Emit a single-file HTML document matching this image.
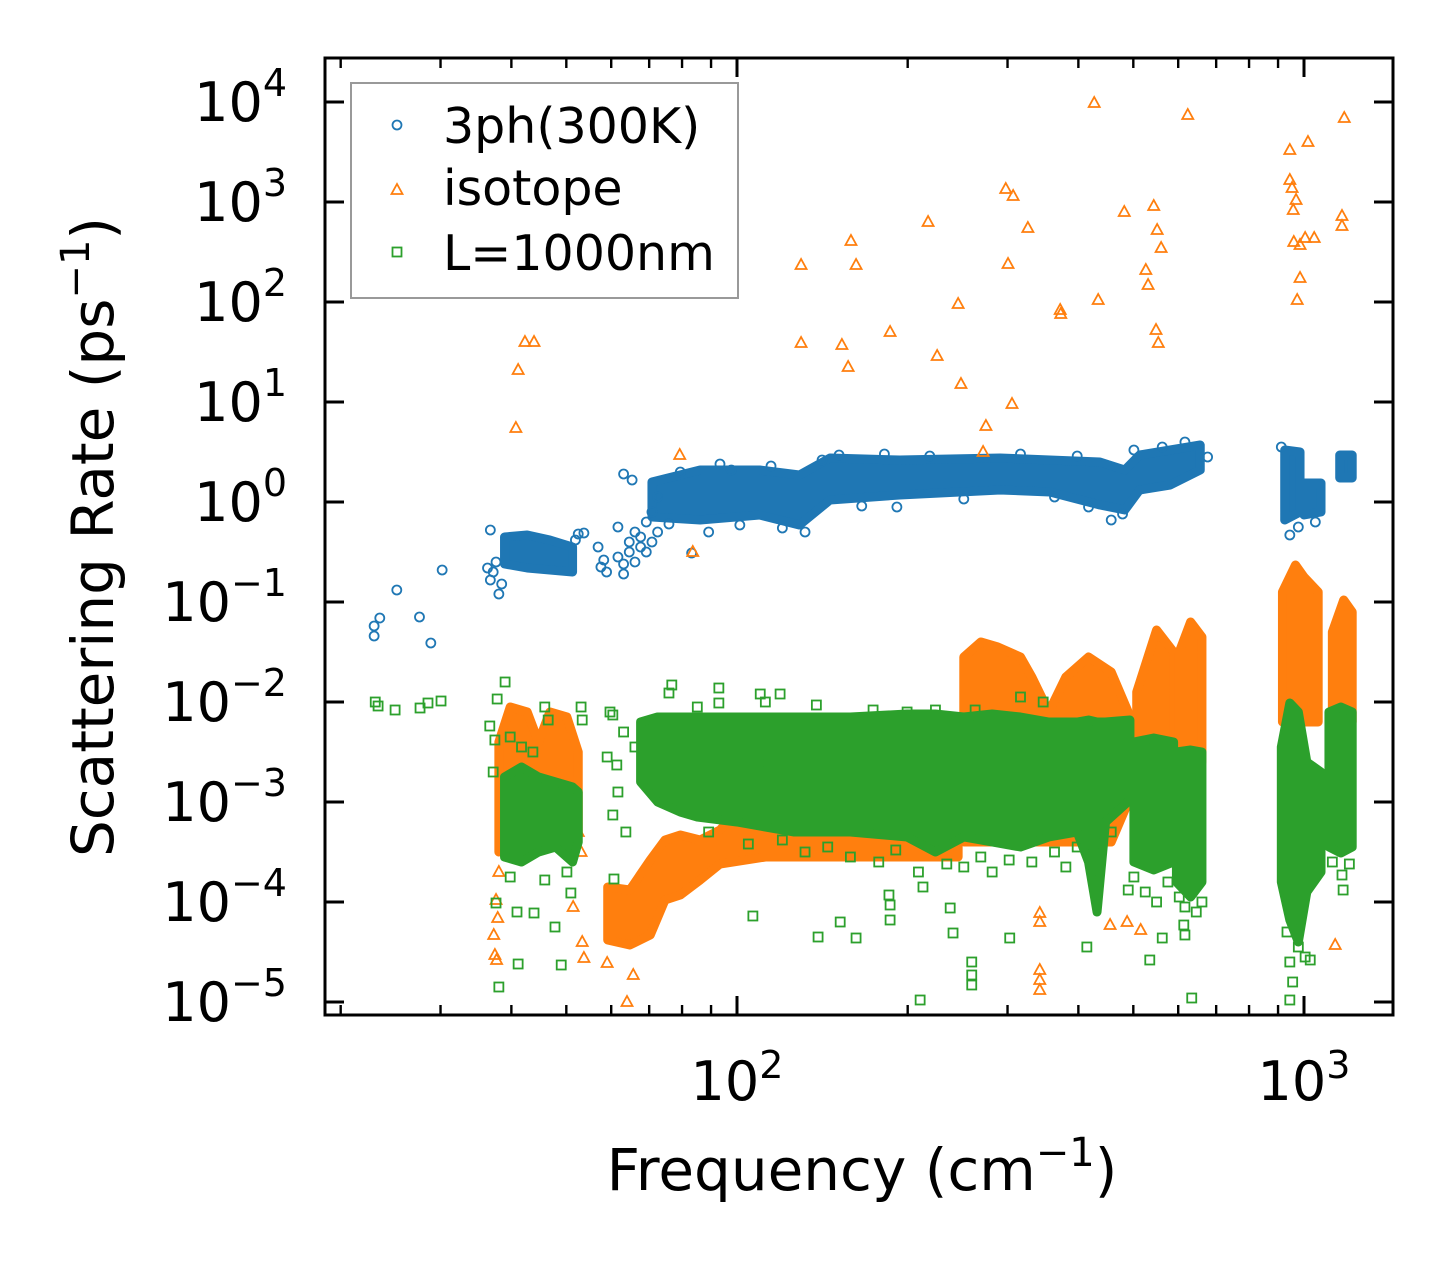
<!DOCTYPE html>
<html><head><meta charset="utf-8"><title>Scattering Rate</title>
<style>
html,body{margin:0;padding:0;background:#fff;}
svg{display:block;font-family:"DejaVu Sans","Liberation Sans",sans-serif;}
</style></head>
<body>
<svg id="chart" width="1455" height="1265" viewBox="0 0 1455 1265" xmlns="http://www.w3.org/2000/svg">
<rect width="1455" height="1265" fill="#fff"/>
<g id="marks"></g>
<g id="axes"></g>
<g id="legend">
  <rect x="351" y="83" width="387" height="215" fill="#fff" fill-opacity="0.8" stroke="#999" stroke-width="2"/>
  <circle cx="397" cy="125" r="4.5" fill="none" stroke="#1f77b4" stroke-width="1.8"/>
  <text x="443" y="143" font-size="49">3ph(300K)</text>
  <path d="M391.5,194 L402.5,194 L397,184 Z" fill="none" stroke="#ff7f0e" stroke-width="1.8"/>
  <text x="443" y="205" font-size="49">isotope</text>
  <rect x="392.5" y="247.5" width="9" height="9" fill="none" stroke="#2ca02c" stroke-width="1.8"/>
  <text x="443" y="270" font-size="49">L=1000nm</text>
</g>
<text x="862" y="1190" font-size="58" text-anchor="middle">Frequency (cm<tspan font-size="40" dy="-24">−1</tspan><tspan dy="24">)</tspan></text>
<text transform="translate(113,537) rotate(-90)" font-size="58" text-anchor="middle">Scattering Rate (ps<tspan font-size="40" dy="-24">−1</tspan><tspan dy="24">)</tspan></text>
</svg>
<script>
// ---- data (log10 frequency in cm^-1, log10 rate in ps^-1) ----
const xTickExps = [2, 3];
const yTickExps = [4, 3, 2, 1, 0, -1, -2, -3, -4, -5];
const xMinorFreqs = [20,30,40,50,60,70,80,90,200,300,400,500,600,700,800,900];

// dense-region envelopes: [logFreq, upperLogRate, lowerLogRate]
const blueEnvelopeA = [[1.59,-0.35,-0.62],[1.63,-0.33,-0.66],[1.67,-0.38,-0.68],[1.71,-0.45,-0.70]];
const blueEnvelopeB = [[1.85,0.20,-0.15],[1.935,0.32,-0.18],[2.04,0.32,-0.13],[2.11,0.27,-0.23],[2.164,0.44,0.02],[2.287,0.42,0.07],[2.464,0.44,0.12],[2.552,0.42,0.10],[2.64,0.40,-0.03],[2.684,0.32,-0.08],[2.71,0.47,0.12],[2.764,0.52,0.17],[2.817,0.57,0.32]];
const blueEnvelopeC = [[2.966,0.52,-0.18],[2.993,0.50,-0.10]];
const blueEnvelopeD = [[3.00,0.19,-0.13],[3.03,0.19,-0.10]];
const blueEnvelopeE = [[3.063,0.47,0.24],[3.085,0.47,0.24]];

const orangeEnvelopeA = [[1.58,-2.4,-3.5],[1.60,-2.05,-3.0],[1.63,-2.1,-2.8],[1.65,-2.4,-2.8],[1.67,-2.1,-2.8],[1.70,-2.15,-3.2],[1.72,-2.5,-3.3]];
const orangeEnvelopeB = [[1.772,-3.85,-4.38],[1.811,-3.88,-4.43],[1.847,-3.58,-4.33],[1.873,-3.38,-3.98],[1.90,-3.33,-3.93],[1.935,-3.38,-3.78],[1.97,-3.28,-3.62],[2.05,-2.8,-3.55],[2.39,-2.3,-3.55]];
const orangeEnvelopeC = [[2.40,-1.55,-3.4],[2.43,-1.40,-3.4],[2.46,-1.45,-3.4],[2.50,-1.55,-3.4],[2.52,-1.75,-3.4],[2.55,-2.1,-3.4],[2.58,-1.75,-3.4],[2.62,-1.55,-3.4],[2.66,-1.7,-3.4],[2.69,-2.1,-3.0]];
const orangeEnvelopeD = [[2.705,-1.9,-2.6],[2.74,-1.28,-2.6],[2.77,-1.5,-2.6]];
const orangeEnvelopeE = [[2.78,-1.5,-2.6],[2.80,-1.2,-2.6],[2.82,-1.35,-2.6]];
const orangeEnvelopeF = [[2.962,-0.9,-2.2],[2.985,-0.63,-2.2],[3.00,-0.75,-2.2],[3.025,-0.9,-2.2]];
const orangeEnvelopeG = [[3.05,-1.3,-2.2],[3.07,-0.98,-2.2],[3.085,-1.1,-2.2]];

const greenEnvelopeA = [[1.59,-2.75,-3.55],[1.62,-2.65,-3.6],[1.65,-2.75,-3.5],[1.68,-2.8,-3.45],[1.71,-2.85,-3.6],[1.72,-2.9,-3.4]];
const greenEnvelopeB = [[1.83,-2.2,-2.8],[1.86,-2.15,-3.0],[1.90,-2.15,-3.1],[1.93,-2.15,-3.15],[2.0,-2.15,-3.2],[2.1,-2.15,-3.3],[2.2,-2.15,-3.3],[2.3,-2.12,-3.35],[2.35,-2.12,-3.5],[2.4,-2.15,-3.35],[2.45,-2.12,-3.4],[2.5,-2.15,-3.45],[2.55,-2.2,-3.35],[2.6,-2.2,-3.3],[2.62,-2.18,-3.6],[2.635,-2.2,-4.1],[2.65,-2.2,-3.2],[2.693,-2.18,-2.98]];
const greenEnvelopeC = [[2.70,-2.4,-3.6],[2.735,-2.36,-3.68],[2.77,-2.4,-3.6]];
const greenEnvelopeD = [[2.775,-2.5,-3.8],[2.80,-2.48,-3.95],[2.82,-2.5,-3.8]];
const greenEnvelopeE = [[2.96,-2.45,-3.8],[2.975,-2.01,-4.18],[2.99,-2.1,-4.4],[3.005,-2.6,-3.9],[3.03,-2.7,-3.7]];
const greenEnvelopeF = [[3.044,-2.1,-3.45],[3.065,-2.05,-3.51],[3.085,-2.1,-3.45]];

// individual scattered points: [logFreq, logRate]
const bluePoints = [[1.36,-1.24],[1.36,-1.34],[1.37,-1.16],[1.40,-0.88],[1.44,-1.15],[1.46,-1.41],[1.48,-0.68],
 [1.565,-0.28],[1.56,-0.66],[1.565,-0.78],[1.57,-0.70],[1.575,-0.60],[1.58,-0.92],[1.585,-0.82],
 [1.715,-0.38],[1.72,-0.32],[1.73,-0.31],[1.755,-0.45],[1.76,-0.65],[1.765,-0.58],[1.77,-0.70],
 [1.79,-0.25],[1.79,-0.55],[1.80,-0.62],[1.80,-0.72],[1.81,-0.40],[1.81,-0.50],[1.82,-0.60],[1.82,-0.30],[1.83,-0.45],[1.83,-0.35],[1.84,-0.50],[1.84,-0.20],[1.85,-0.10],[1.85,-0.40],[1.86,-0.30],[1.86,0.05],[1.80,0.28],[1.815,0.22],
 [1.92,-0.51],[1.95,-0.30],[2.005,-0.23],[1.99,0.32],[2.12,-0.30],[2.282,-0.05],[2.62,-0.05],[2.975,-0.33],[2.68,-0.12],
 [1.88,-0.22],[1.90,0.30],[1.97,0.38],[2.06,0.36],[2.08,-0.26],[2.15,0.42],[2.18,0.47],[2.22,-0.04],[2.26,0.48],[2.34,0.46],[2.40,0.03],[2.50,0.48],[2.56,0.05],[2.60,0.46],[2.66,-0.18],[2.70,0.52],[2.75,0.55],[2.79,0.60],[2.83,0.45],[2.96,0.55],[2.99,-0.25],[3.02,-0.20]];
const orangePoints = [[1.610,0.74],[1.614,1.32],[1.626,1.60],[1.642,1.60],[1.899,0.47],[1.922,-0.50],[2.113,2.37],[2.113,1.59],[2.185,1.57],[2.196,1.35],[2.201,2.61],[2.210,2.37],[2.270,1.70],[2.337,2.80],[2.353,1.46],[2.390,1.98],[2.395,1.18],[2.434,0.50],[2.439,0.76],[2.474,3.13],[2.478,2.38],[2.487,3.06],[2.485,0.98],[2.513,2.74],[2.570,1.92],[2.571,1.88],[2.630,3.99],[2.637,2.02],[2.683,2.90],[2.721,2.32],[2.725,2.17],[2.735,2.96],[2.741,2.72],[2.739,1.72],[2.743,1.59],[2.748,2.54],[2.795,3.87],
 [2.975,3.52],[2.975,3.22],[2.979,3.14],[2.981,2.92],[2.982,2.60],[2.986,3.02],[2.988,2.02],[2.993,2.24],[2.993,2.57],[3.002,2.64],[3.007,3.60],[3.018,2.64],[3.067,2.86],[3.067,2.76],[3.071,3.84],[3.055,-4.43],
 [2.534,-4.11],[2.534,-4.20],[2.534,-4.68],[2.534,-4.78],[2.534,-4.88],[2.658,-4.23],[2.688,-4.20],[2.712,-4.28],
 [1.806,-5.0],[1.817,-4.73],[1.771,-4.61],[1.727,-4.40],[1.730,-4.56],[1.711,-4.05],[1.571,-4.33],[1.573,-4.53],[1.576,-4.58],[1.578,-4.16],[1.575,-3.98],[1.58,-3.7],[1.72,-3.3],[1.725,-3.5]];
const greenPoints = [[1.362,-2.00],[1.367,-2.04],[1.397,-2.08],[1.441,-2.06],[1.455,-2.01],[1.478,-1.99],
 [1.591,-1.80],[1.577,-1.97],[1.564,-2.24],[1.573,-2.38],[1.661,-2.05],[1.725,-2.05],[1.727,-2.18],[1.667,-2.18],[1.60,-2.35],[1.62,-2.45],[1.64,-2.5],[1.57,-2.7],
 [1.575,-4.01],[1.612,-4.10],[1.642,-4.11],[1.679,-4.25],[1.614,-4.62],[1.690,-4.63],[1.580,-4.85],[1.661,-3.78],[1.707,-3.91],[1.70,-3.7],[1.60,-3.75],
 [1.783,-3.77],[1.804,-3.30],[1.781,-3.13],[1.771,-2.55],[1.788,-2.63],[1.781,-2.13],[1.776,-2.10],[1.80,-2.3],[1.79,-2.9],[1.82,-2.45],
 [1.885,-1.83],[1.880,-1.91],[1.968,-1.86],[1.968,-2.01],[2.041,-2.61],[2.028,-4.14],[2.143,-4.35],[2.182,-4.20],[2.210,-4.36],[2.270,-4.03],[2.270,-4.18],[2.268,-3.93],[2.041,-1.92],[2.076,-1.92],
 [2.323,-4.98],[2.376,-4.06],[2.381,-4.31],[2.328,-3.85],[2.414,-4.60],[2.414,-4.73],[2.414,-4.83],[2.481,-4.36],[2.617,-4.45],[2.690,-3.88],[2.728,-4.58],[2.750,-4.36],[2.788,-4.23],[2.79,-4.33],[2.802,-4.96],
 [2.975,-4.6],[2.98,-4.8],[2.975,-4.98],[3.002,-4.55],[3.011,-4.58],[3.069,-3.88],[3.067,-3.73],[2.72,-3.9],[2.74,-4.0],[2.79,-4.05],[2.81,-4.1],
 [1.93,-2.05],[2.05,-2.0],[2.14,-2.03],[2.24,-2.08],[2.30,-2.1],[2.35,-2.08],[2.42,-2.08],[2.50,-1.95],[2.54,-2.0],[2.20,-3.55],[2.25,-3.6],[2.40,-3.65],[2.45,-3.7],[2.52,-3.6],[2.58,-3.65],[2.12,-3.5],[2.32,-3.7],
 [1.95,-3.3],[2.02,-3.42],[2.08,-3.38],[2.16,-3.45],[2.28,-3.48],[2.37,-3.62],[2.43,-3.55],[2.48,-3.58],[2.56,-3.5],[2.60,-3.45],[2.66,-3.3],[2.70,-3.75],[2.76,-3.8],[2.78,-3.95],[2.82,-4.0],[2.97,-4.3],[2.99,-4.45],[3.05,-3.6],[3.08,-3.62]];

// ---- scales ----
const X = lf => 737 + 567 * (lf - 2);
const Y = lr => 502 - 100 * lr;
const NS = 'http://www.w3.org/2000/svg';
const marks = document.getElementById('marks');
const axes = document.getElementById('axes');
const COLORS = {blue:'#1f77b4', orange:'#ff7f0e', green:'#2ca02c'};

function mk(tag, attrs, parent) {
  const e = document.createElementNS(NS, tag);
  for (const k in attrs) e.setAttribute(k, attrs[k]);
  parent.appendChild(e);
  return e;
}
function envelope(data, color, name) {
  const top = data.map(d => X(d[0]) + ',' + Y(d[1]));
  const bot = data.slice().reverse().map(d => X(d[0]) + ',' + Y(d[2]));
  const p = mk('polygon', {points: top.concat(bot).join(' '), fill: color, stroke: color, 'stroke-width': 9, 'stroke-linejoin': 'round'}, marks);
  
  
}
function points(data, kind, color, name) {
  const g = mk('g', {fill: 'none', stroke: color, 'stroke-width': 1.8}, marks);
  
  
  data.forEach(d => {
    const cx = X(d[0]), cy = Y(d[1]);
    let e;
    if (kind === 'circle') e = mk('circle', {cx: cx, cy: cy, r: 4.5}, g);
    else if (kind === 'tri') e = mk('path', {d: `M${cx-5.5},${cy+4} L${cx+5.5},${cy+4} L${cx},${cy-6} Z`}, g);
    else e = mk('rect', {x: cx-4.5, y: cy-4.5, width: 9, height: 9}, g);
    
    
  });
}
[blueEnvelopeA,blueEnvelopeB,blueEnvelopeC,blueEnvelopeD,blueEnvelopeE].forEach(d => envelope(d, COLORS.blue, 'series-3ph-dense'));
points(bluePoints, 'circle', COLORS.blue, 'series-3ph');
[orangeEnvelopeA,orangeEnvelopeB,orangeEnvelopeC,orangeEnvelopeD,orangeEnvelopeE,orangeEnvelopeF,orangeEnvelopeG].forEach(d => envelope(d, COLORS.orange, 'series-isotope-dense'));
points(orangePoints, 'tri', COLORS.orange, 'series-isotope');
[greenEnvelopeA,greenEnvelopeB,greenEnvelopeC,greenEnvelopeD,greenEnvelopeE,greenEnvelopeF].forEach(d => envelope(d, COLORS.green, 'series-boundary-dense'));
points(greenPoints, 'square', COLORS.green, 'series-boundary');

// ---- axes ----
const L = 325, R = 1393, T = 58, B = 1015;
const frame = mk('rect', {x: L, y: T, width: R - L, height: B - T, fill: 'none', stroke: '#000', 'stroke-width': 3}, axes);


function line(x1, y1, x2, y2, w, name) {
  const l = mk('line', {x1: x1, y1: y1, x2: x2, y2: y2, stroke: '#000', 'stroke-width': w}, axes);
  
  
}
xTickExps.forEach(e => {
  const x = X(e);
  line(x, B, x, B - 19, 3, 'x-major-tick');
  line(x, T, x, T + 19, 3, 'x-major-tick-top');
  const t = mk('text', {x: x, y: 1100, 'font-size': 54, 'text-anchor': 'middle'}, axes);
  t.innerHTML = `10<tspan font-size="38" dy="-22">${e}</tspan>`;
  
  
});
xMinorFreqs.forEach(f => {
  const x = X(Math.log10(f));
  line(x, B, x, B - 10, 2.4, 'x-minor-tick');
  line(x, T, x, T + 10, 2.4, 'x-minor-tick-top');
});
yTickExps.forEach(e => {
  const y = Y(e);
  line(L, y, L + 19, y, 3, 'y-major-tick');
  line(R, y, R - 19, y, 3, 'y-major-tick-right');
  const t = mk('text', {x: 287, y: y + 19, 'font-size': 54, 'text-anchor': 'end'}, axes);
  const lbl = e < 0 ? '−' + (-e) : '' + e;
  t.innerHTML = `10<tspan font-size="38" dy="-25">${lbl}</tspan>`;
  
  
});
</script>
</body></html>
